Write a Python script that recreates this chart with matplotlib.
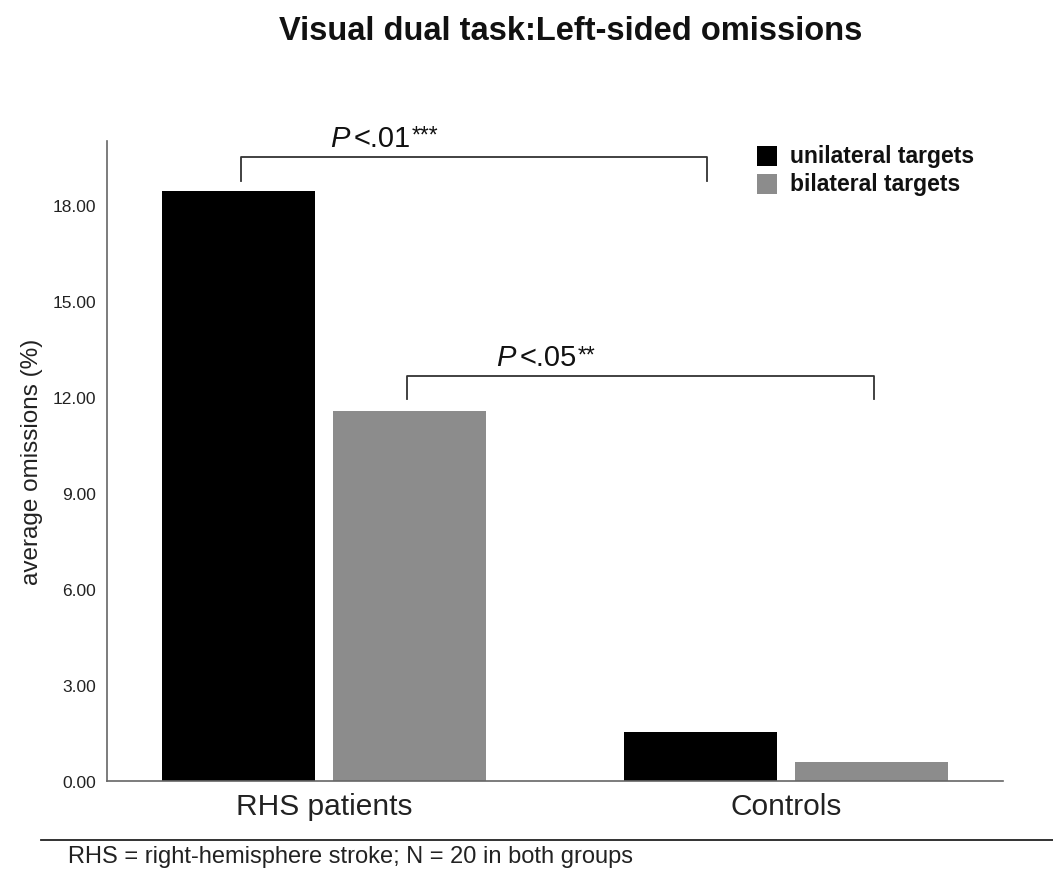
import matplotlib
matplotlib.use("Agg")
import matplotlib.pyplot as plt
from matplotlib.lines import Line2D
from matplotlib.patches import Rectangle

plt.rcParams["font.family"] = ["Liberation Sans", "DejaVu Sans"]

groups = ["RHS patients", "Controls"]
series_names = ["unilateral targets", "bilateral targets"]
unilateral = [18.45, 1.53]
bilateral = [11.57, 0.60]
y_ticks = [0, 3, 6, 9, 12, 15, 18]

# significance brackets: (left x, right x, bar y, leg bottom, p text, stars, text x, text baseline)
brackets = [
    (-0.18, 0.83, 19.5, 18.75, "<.01", "***", 0.013, 19.85),
    (0.18, 1.19, 12.65, 11.95, "<.05", "**", 0.372, 13.0),
]

colors = ["#000000", "#8c8c8c"]
bar_w = 0.331
offset = 0.185

fig = plt.figure(figsize=(10.53, 8.70), dpi=100)
ax = fig.add_axes([0.1016, 0.1011, 0.8509, 0.7356])

x = range(len(groups))
ax.bar([i - offset for i in x], unilateral, width=bar_w, color=colors[0])
ax.bar([i + offset for i in x], bilateral, width=bar_w, color=colors[1])

ax.set_xlim(-0.47, 1.47)
ax.set_ylim(0, 20)
ax.set_yticks(y_ticks)
ax.set_yticklabels([f"{v:.2f}" for v in y_ticks], fontsize=12.5, color="#222222")
ax.set_xticks(list(x))
ax.set_xticklabels(groups, fontsize=21.5, color="#222222")
ax.tick_params(axis="both", length=0)
ax.tick_params(axis="y", pad=8)
ax.tick_params(axis="x", pad=8)

for side in ["top", "right"]:
    ax.spines[side].set_visible(False)
for side in ["left", "bottom"]:
    ax.spines[side].set_color("#666666")
    ax.spines[side].set_linewidth(1.2)

ax.set_ylabel("average omissions (%)", fontsize=17.5, color="#222222", labelpad=7)

for x0, x1, y, y_low, ptxt, stars, tx, ty in brackets:
    ax.plot([x0, x0, x1, x1], [y_low, y, y, y_low], color="#333333", lw=1.3, clip_on=False)
    p = ax.text(tx, ty, "P", fontsize=21, style="italic", ha="left", va="baseline",
                color="#111111")
    lt = ax.annotate(ptxt, xy=(1, 0), xycoords=p, xytext=(3, 0), textcoords="offset points",
                     fontsize=21, ha="left", va="bottom", color="#111111")
    ax.annotate(stars, xy=(1, 1), xycoords=lt, xytext=(1, 0), textcoords="offset points",
                fontsize=16.5, ha="left", va="top", color="#111111")

# legend drawn by hand: squares and bold labels
for i, (name, c) in enumerate(zip(series_names, colors)):
    top = 147 + i * 28
    fig.add_artist(Rectangle((757 / 1053, (870 - top - 20) / 870), 20 / 1053, 20 / 870,
                             transform=fig.transFigure, facecolor=c, edgecolor="none"))
    fig.text(790 / 1053, (870 - top - 10) / 870, name, fontsize=16.5, fontweight="bold",
             ha="left", va="center", color="#111111")

fig.text(0.542, 0.964, "Visual dual task:Left-sided omissions", fontsize=23.5,
         fontweight="bold", ha="center", va="center", color="#111111")

# separator and footnote below the plot
fig.add_artist(Line2D([0.039, 1.0], [0.033, 0.033], color="#222222", lw=1.3))
fig.text(0.0646, 0.0149, "RHS = right-hemisphere stroke; N = 20 in both groups",
         fontsize=17, ha="left", va="center", color="#222222")

fig.savefig("out.png", dpi=100)
